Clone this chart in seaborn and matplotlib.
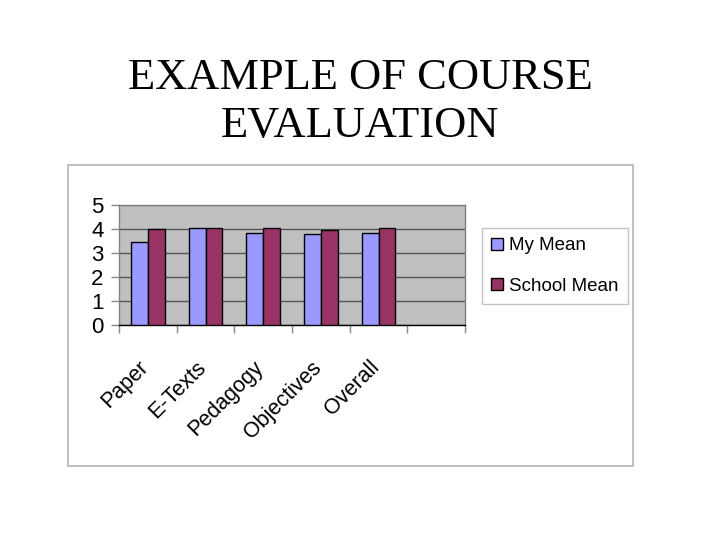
import matplotlib
matplotlib.use('Agg')
import matplotlib.pyplot as plt
import matplotlib.transforms as mtransforms
from matplotlib.patches import Rectangle, Patch
import seaborn as sns
import pandas as pd

categories = ["Paper", "E-Texts", "Pedagogy", "Objectives", "Overall"]
series = ["My Mean", "School Mean"]
my_mean = [3.45, 4.05, 3.85, 3.8, 3.85]
school_mean = [4.0, 4.05, 4.05, 3.95, 4.05]
y_ticks = [0, 1, 2, 3, 4, 5]
colors = ['#9999ff', '#993366']

df = pd.DataFrame({
    "Category": categories * 2,
    "Series": [series[0]] * len(categories) + [series[1]] * len(categories),
    "Value": my_mean + school_mean,
})

sns.set_theme(style="white")
plt.rcParams['font.family'] = ['Liberation Sans', 'DejaVu Sans']
plt.rcParams['text.color'] = 'black'
plt.rcParams['xtick.labelcolor'] = 'black'
plt.rcParams['ytick.labelcolor'] = 'black'

W, H = 720, 540
fig = plt.figure(figsize=(W / 100, H / 100), dpi=100)
fig.patch.set_facecolor('white')

# chart frame
fig.patches.append(Rectangle((68 / W, 1 - 466 / H), (633 - 68) / W, (466 - 165) / H,
                             transform=fig.transFigure, fill=False,
                             edgecolor='#b4b4b4', lw=1.2))

# title
fig.text(0.5, 1 - 89 / H, "EXAMPLE OF COURSE", ha='center', va='baseline',
         family=['Liberation Serif', 'DejaVu Serif'], fontsize=32, color='black')
fig.text(0.5, 1 - 137 / H, "EVALUATION", ha='center', va='baseline',
         family=['Liberation Serif', 'DejaVu Serif'], fontsize=32, color='black')

ax = fig.add_axes([119 / W, 1 - 325 / H, 346 / W, 120 / H])
ax.set_facecolor('#c0c0c0')
sns.barplot(data=df, x="Category", y="Value", hue="Series", order=categories,
            hue_order=series, palette=colors, width=0.58, edgecolor='black',
            linewidth=1, saturation=1, errorbar=None, ax=ax, legend=False, zorder=3)

ax.set_xlim(-0.5, 5.5)
ax.set_ylim(0, 5)
ax.set_yticks(y_ticks)
ax.set_yticklabels([str(t) for t in y_ticks], fontsize=16, color='black')
ax.yaxis.grid(True, color='#555555', lw=1, zorder=1)
ax.set_axisbelow(True)
ax.tick_params(axis='y', which='major', length=6, width=1, color='#888888',
               direction='out', pad=5, left=True, labelcolor='black')

ax.set_xticks(range(len(categories)))
ax.set_xticklabels(categories, rotation=45, ha='right', rotation_mode='anchor',
                   fontsize=15.5, color='black')
ax.set_xticks([i - 0.5 for i in range(7)], minor=True)
ax.tick_params(axis='x', which='major', length=0, pad=23, labelcolor='black')
ax.tick_params(axis='x', which='minor', length=6, width=1, color='#888888',
               direction='out', bottom=True)
offset = mtransforms.ScaledTranslation(-10 / 100, 0, fig.dpi_scale_trans)
for lbl in ax.get_xticklabels():
    lbl.set_transform(lbl.get_transform() + offset)

ax.set_xlabel('')
ax.set_ylabel('')
for side in ['top', 'left', 'right']:
    ax.spines[side].set_color('#808080')
    ax.spines[side].set_linewidth(1)
ax.spines['bottom'].set_color('black')
ax.spines['bottom'].set_linewidth(1)

handles = [Patch(facecolor=c, edgecolor='black', lw=1, label=s) for c, s in zip(colors, series)]
leg = fig.legend(handles=handles, loc='upper left', bbox_to_anchor=(482 / W, 1 - 228 / H),
                 frameon=True, fancybox=False, edgecolor='#b4b4b4', fontsize=13.5,
                 handlelength=0.6, handleheight=0.6, handletextpad=0.32,
                 labelspacing=1.25, borderpad=0.5, borderaxespad=0)
for t in leg.get_texts():
    t.set_color('black')

fig.savefig('out.png', dpi=100, facecolor='white')
